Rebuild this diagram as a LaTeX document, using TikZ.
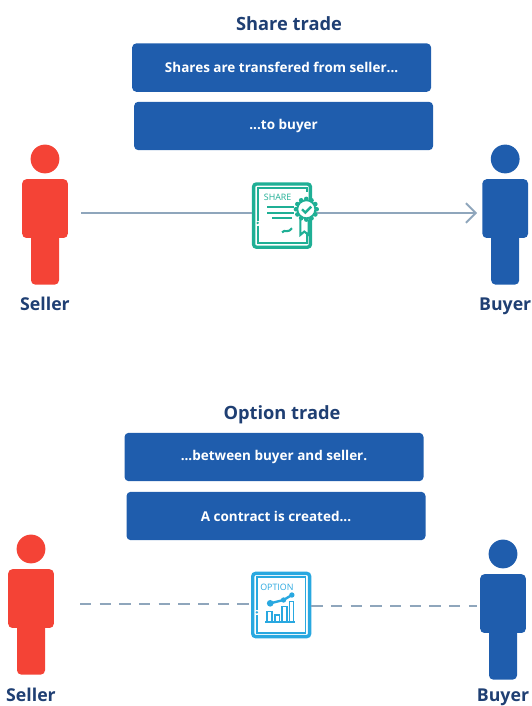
\documentclass[tikz,border=0pt]{standalone}
\usepackage{fontspec}
\setmainfont{Open Sans}
\usepackage{tikz}
\usetikzlibrary{arrows.meta}

\definecolor{titleblue}{HTML}{1F3F73}
\definecolor{boxblue}{HTML}{1F5DAD}
\definecolor{sellerred}{HTML}{F44336}
\definecolor{linegrey}{HTML}{8FA6BC}
\definecolor{shareteal}{HTML}{1FAF95}
\definecolor{optioncyan}{HTML}{29A8E0}

\tikzset{
    title/.style={font=\fontsize{13}{15}\selectfont\bfseries,text=titleblue},
    msgbox/.style={fill=boxblue,rounded corners=3pt,minimum width=7.475cm,minimum height=1.21cm,text=white,font=\fontsize{9.6}{11}\selectfont\bfseries},
    who/.style={font=\fontsize{12.6}{15}\selectfont\bfseries,text=titleblue,anchor=base},
    flow/.style={linegrey,line width=1.4pt},
    certbox/.style={draw,fill=white,line width=2.4pt,rounded corners=2pt,minimum width=1.42cm,minimum height=1.58cm}
}

\newcommand{\person}[5]{
    \node[circle,fill=#3,minimum size=0.72cm,inner sep=0pt] at (#2) (#1head) {};
    \node[fill=#3,rounded corners=3pt,minimum width=0.7cm,minimum height=1.5cm,inner sep=0pt] at ([yshift=-2.39cm]#1head.center) (#1legs) {};
    \node[fill=#3,rounded corners=3pt,minimum width=1.14cm,minimum height=1.47cm,inner sep=0pt] at ([yshift=-1.24cm]#1head.center) (#1body) {};
    \node[who] at ([yshift=-#5cm]#1head.center) (#1name) {#4};
}

\begin{document}
\begin{tikzpicture}
    \useasboundingbox (0,0) rectangle (13.275,17.65);

    % share trade
    \node[title] at (7.225,17.05) (sharetitle) {Share trade};
    \node[msgbox] at (7.04,15.96) (sharemsga) {Shares are transfered from seller...};
    \node[msgbox] at (7.09,14.5) (sharemsgb) {...to buyer};
    \person{sharesell}{1.125,13.675}{sellerred}{Seller}{3.8}
    \person{sharebuy}{12.63,13.675}{boxblue}{Buyer}{3.8}
    \coordinate (sharefrom) at (2.03,12.325);
    \coordinate (shareto) at (11.93,12.325);
    \node[certbox,draw=shareteal] at (7.05,12.26) (sharecert) {};
    \draw[flow] (sharefrom) to (sharecert.west |- sharefrom);
    \draw[flow,-{Straight Barb[length=7pt,width=14pt]}] (sharecert.east |- shareto) to (shareto);
    \begin{scope}[shift={(sharecert.center)},x=0.00833cm,y=-0.00833cm,shareteal,line width=1.3pt]
        \draw (-73,15) -- (-73,-83) -- (75,-83) -- (75,-70);
        \draw (-73,30) -- (-73,83) -- (75,83) -- (75,40);
        \fill (-73,22) circle (4);
        \node[text=shareteal,font=\fontsize{6.3}{7}\selectfont,inner sep=0pt] at (-13,-55) (sharetag) {SHARE};
        \draw[line width=1.5pt] (-45,-25) -- (35,-25) (-45,-9) -- (35,-9) (-30,8) -- (30,8);
        \draw[line width=1.5pt] (0,50) .. controls (10,40) and (15,55) .. (30,38);
        \draw[fill=white,line width=1.5pt] (55,13) -- (55,58) -- (67,48) -- (80,58) -- (80,13);
        \foreach \ang in {0,30,...,330}
            \fill (73,-19) ++(\ang:31) circle (7);
        \draw[fill=white,line width=1.3pt] (73,-19) circle (27);
        \draw[line width=1.7pt] (60,-19) -- (70,-9) -- (88,-27);
    \end{scope}

    % option trade
    \node[title] at (7.05,7.28) (opttitle) {Option trade};
    \node[msgbox] at (6.85,6.225) (optmsga) {...between buyer and seller.};
    \node[msgbox] at (6.9,4.75) (optmsgb) {A contract is created...};
    \person{optsell}{0.775,3.925}{sellerred}{Seller}{3.8}
    \person{optbuy}{12.575,3.8}{boxblue}{Buyer}{3.68}
    \coordinate (optfrom) at (2,2.55);
    \coordinate (optto) at (11.93,2.5);
    \node[certbox,draw=optioncyan] at (7.03,2.525) (optcert) {};
    \draw[flow,dash pattern=on 8pt off 6pt] (optfrom) to (optcert.west |- optfrom);
    \draw[flow,dash pattern=on 8pt off 6pt] (optcert.east |- optto) to (optto);
    \begin{scope}[shift={(optcert.center)},x=0.00833cm,y=-0.00833cm,optioncyan,line width=1.3pt]
        \draw (-73,15) -- (-73,-83) -- (73,-83) -- (73,83) -- (-73,83) -- (-73,30);
        \fill (-73,22) circle (4);
        \node[text=optioncyan,font=\fontsize{6.3}{7}\selectfont,inner sep=0pt] at (-13,-53) (opttag) {OPTION};
        \draw[line width=1.1pt] (-43,20) rectangle (-28,50) (-18,30) rectangle (-5,50) (2,5) rectangle (17,50) (25,-10) rectangle (37,50);
        \draw[line width=1.4pt] (-48,52) -- (42,52);
        \draw[line width=1.7pt] (-33,-5) -- (7,-15) -- (32,-30);
        \fill (-33,-5) circle (10) (7,-15) circle (8) (32,-30) circle (8);
    \end{scope}
\end{tikzpicture}
\end{document}
